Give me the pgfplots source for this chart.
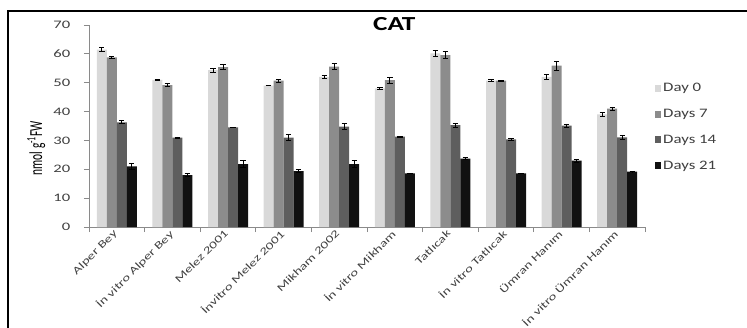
\documentclass[border=0pt]{standalone}
\usepackage{pgfplots}
\pgfplotsset{compat=1.18}
\usepackage{pgfplotstable}
\usepackage{fontspec}
\setmainfont{Carlito}
\definecolor{dzero}{HTML}{D9D9D9}
\definecolor{dseven}{HTML}{8C8C8C}
\definecolor{dfourteen}{HTML}{5E5E5E}
\definecolor{dtwentyone}{HTML}{111111}
\definecolor{axgray}{HTML}{8A8A8A}
\definecolor{txtgray}{HTML}{404040}

\pgfplotstableread{
x y e
0 61.5 0.6
1 51.0 0.2
2 54.4 0.7
3 49.0 0.0
4 52.0 0.6
5 48.0 0.3
6 60.2 1.0
7 50.7 0.3
8 52.0 0.9
9 39.0 0.8
}\dayzero
\pgfplotstableread{
x y e
0 58.8 0.3
1 49.2 0.5
2 55.4 0.8
3 50.7 0.5
4 55.6 1.0
5 50.9 1.0
6 59.6 1.1
7 50.7 0.2
8 55.9 1.6
9 41.0 0.6
}\dayseven
\pgfplotstableread{
x y e
0 36.3 0.5
1 31.0 0.2
2 34.5 0.1
3 31.0 1.1
4 34.8 1.1
5 31.3 0.1
6 35.3 0.7
7 30.4 0.3
8 35.1 0.6
9 31.1 0.6
}\dayfourteen
\pgfplotstableread{
x y e
0 21.0 1.0
1 18.0 0.4
2 21.8 1.2
3 19.4 0.4
4 21.8 1.1
5 18.6 0.1
6 23.7 0.4
7 18.6 0.1
8 23.0 0.5
9 19.2 0.1
}\daytwentyone

\begin{document}
\begin{tikzpicture}
\useasboundingbox (-89bp,-101bp) rectangle (658bp,227bp);
\draw[line width=2.8bp] (-81bp,-103bp) -- (-81bp,216bp) -- (660bp,216bp);
\begin{axis}[
  at={(0,0)}, anchor=south west,
  width=556bp, height=202bp, scale only axis,
  ybar=0pt, bar width=10bp,
  xmin=-0.5, xmax=9.5, ymin=0, ymax=70,
  ytick={0,10,...,70},
  xtick={0,...,9},
  xticklabels={Alper Bey, İn vitro Alper Bey, Melez 2001, İnvitro Melez 2001, Mikham 2002, İn vitro Mikham, Tatlıcak, İn vitro Tatlıcak, Ümran Hanım, İn vitro Ümran Hanım},
  minor xtick={-0.5,0.5,...,9.5},
  major x tick style={draw=none},
  minor x tick style={axgray, line width=0.8bp},
  y tick style={axgray, line width=0.8bp},
  axis x line*=bottom, axis y line*=left,
  axis line style={axgray, line width=0.8bp},
  tick align=outside,
  major tick length=5bp, minor tick length=5bp,
  /pgf/number format/assume math mode=true,
  yticklabel style={font=\fontsize{11.5}{13}\selectfont, text=txtgray, anchor=east, xscale=1.45, xshift=-6bp},
  xticklabel style={font=\fontsize{10.5}{12}\selectfont, text=txtgray, xshift=-4bp, yshift=5bp, rotate=45, xscale=1.42, anchor=north east, inner sep=1bp},
  title={CAT},
  title style={at={(axis description cs:0.549,0.975)}, anchor=center, xscale=1.37, font=\bfseries\fontsize{20}{24}\selectfont},
  ylabel={nmol g\textsuperscript{-1}FW},
  ylabel style={at={(axis description cs:-0.095,0.39)}, anchor=center, yscale=1.6, font=\fontsize{11.5}{12}\selectfont},
  legend style={draw=none, at={(axis description cs:1,0.72)}, anchor=north west, xshift=10bp, font=\fontsize{13}{14}\selectfont, text=txtgray, row sep=13bp, inner sep=0pt, nodes={xscale=1.3, inner sep=1.5bp}},
  legend cell align=left,
  legend image code/.code={\fill[#1,draw=none] (0bp,-3.5bp) rectangle (6bp,3.5bp);},
  error bars/y dir=both, error bars/y explicit,
  error bars/error bar style={black, line width=0.8bp},
  error bars/error mark options={rotate=90, mark size=2.7bp, black, line width=0.9bp},
]
\addplot[fill=dzero, draw=none] table[x=x, y=y, y error=e] {\dayzero};
\addplot[fill=dseven, draw=none] table[x=x, y=y, y error=e] {\dayseven};
\addplot[fill=dfourteen, draw=none] table[x=x, y=y, y error=e] {\dayfourteen};
\addplot[fill=dtwentyone, draw=none] table[x=x, y=y, y error=e] {\daytwentyone};
\legend{Day 0, Days 7, Days 14, Days 21}
\end{axis}
\end{tikzpicture}
\end{document}
